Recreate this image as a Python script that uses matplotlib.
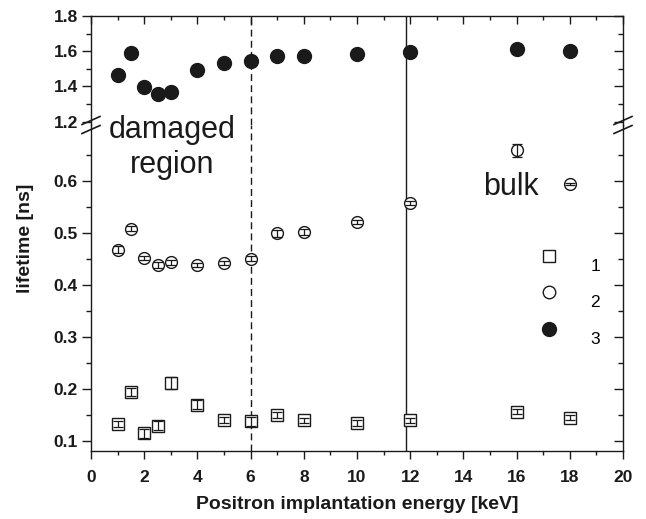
import matplotlib
matplotlib.use('Agg')
import matplotlib.pyplot as plt
from matplotlib.lines import Line2D
from matplotlib.ticker import MultipleLocator, FixedLocator

plt.rcParams['font.family'] = ['Liberation Sans', 'DejaVu Sans']

# Positron implantation energy [keV]
energy = [1, 1.5, 2, 2.5, 3, 4, 5, 6, 7, 8, 10, 12, 16, 18]

# lifetime component 1 (open squares)
tau1 = [0.132, 0.193, 0.114, 0.129, 0.211, 0.169, 0.140, 0.137, 0.150, 0.139, 0.134, 0.139, 0.156, 0.144]
err1 = [0.006, 0.008, 0.008, 0.009, 0.011, 0.009, 0.006, 0.008, 0.006, 0.005, 0.005, 0.005, 0.004, 0.005]

# lifetime component 2 (open circles)
tau2 = [0.468, 0.508, 0.451, 0.438, 0.443, 0.438, 0.442, 0.450, 0.499, 0.501, 0.521, 0.558, 0.659, 0.595]
err2 = [0.006, 0.005, 0.004, 0.005, 0.005, 0.004, 0.004, 0.005, 0.006, 0.006, 0.004, 0.004, 0.012, 0.002]

# lifetime component 3 (filled circles)
tau3 = [1.466, 1.591, 1.394, 1.357, 1.368, 1.494, 1.532, 1.543, 1.571, 1.571, 1.583, 1.594, 1.610, 1.600]

labels = ['1', '2', '3']
lo_major = [0.1, 0.2, 0.3, 0.4, 0.5, 0.6]
lo_minor = [0.15, 0.25, 0.35, 0.45, 0.55, 0.65]
damaged_edge = 6
bulk_edge = 11.83

fig = plt.figure(figsize=(6.46, 5.19), dpi=100)
ax_lo = fig.add_axes([0.1409, 0.1310, 0.8235, 0.6281])
ax_hi = fig.add_axes([0.1409, 0.7592, 0.8235, 0.2100], sharex=ax_lo)
ax_hi.patch.set_visible(False)

ink = '#1a1a1a'

# Series: markers first, error bars drawn over them
ax_lo.plot(energy, tau1, 's', ms=8, mfc='white', mec=ink, mew=1.0, zorder=3)
ax_lo.errorbar(energy, tau1, yerr=err1, fmt='none', ecolor=ink, elinewidth=0.9,
               capsize=3.5, capthick=0.9, zorder=4)
ax_lo.plot(energy, tau2, 'o', ms=8.5, mfc='white', mec=ink, mew=1.0, zorder=3)
ax_lo.errorbar(energy, tau2, yerr=err2, fmt='none', ecolor=ink, elinewidth=0.9,
               capsize=3.5, capthick=0.9, zorder=4)
ax_hi.plot(energy, tau3, 'o', ms=10, color=ink, zorder=3)

# Region boundaries
for ax in (ax_lo, ax_hi):
    ax.axvline(damaged_edge, color=ink, lw=1.0, ls=(0, (5, 3)), zorder=1)
    ax.axvline(bulk_edge, color=ink, lw=1.0, zorder=1)

ax_lo.set_xlim(0, 20)
ax_lo.set_ylim(0.08, 0.7077)
ax_hi.set_ylim(1.181, 1.8)

ax_lo.xaxis.set_major_locator(MultipleLocator(2))
ax_lo.xaxis.set_minor_locator(MultipleLocator(1))
ax_lo.yaxis.set_major_locator(FixedLocator(lo_major))
ax_lo.yaxis.set_minor_locator(FixedLocator(lo_minor))
ax_hi.yaxis.set_major_locator(MultipleLocator(0.2))
ax_hi.yaxis.set_minor_locator(MultipleLocator(0.1))

for ax in (ax_lo, ax_hi):
    for sp in ax.spines.values():
        sp.set_linewidth(1.0)
        sp.set_color(ink)
    ax.tick_params(axis='y', which='major', direction='out', length=6.5, width=1.0, color=ink,
                   labelsize=12.5, labelcolor=ink, pad=3)
    ax.tick_params(axis='y', which='minor', direction='out', length=3.6, width=1.0, color=ink)
    ax.tick_params(axis='y', which='both', right=False, labelright=False)
    for t in ax.yaxis.get_ticklabels():
        t.set_fontweight('bold')

# right side ticks point inward
for ax in (ax_lo, ax_hi):
    r = ax.twinx()
    r.set_ylim(ax.get_ylim())
    r.yaxis.set_major_locator(ax.yaxis.get_major_locator())
    r.yaxis.set_minor_locator(ax.yaxis.get_minor_locator())
    r.tick_params(axis='y', which='major', direction='in', length=6.5, width=1.0, color=ink, labelright=False)
    r.tick_params(axis='y', which='minor', direction='in', length=3.6, width=1.0, color=ink)
    for sp in r.spines.values():
        sp.set_visible(False)

ax_lo.spines['top'].set_visible(False)
ax_hi.spines['bottom'].set_visible(False)
ax_lo.tick_params(axis='x', which='major', direction='out', length=5.5, width=1.0, color=ink,
                  labelsize=12.5, labelcolor=ink, top=False, pad=8)
ax_lo.tick_params(axis='x', which='minor', direction='out', length=3.2, width=1.0, color=ink, top=False)
for t in ax_lo.xaxis.get_ticklabels():
    t.set_fontweight('bold')
ax_hi.tick_params(axis='x', which='major', direction='in', length=5.5, width=1.0, color=ink,
                  top=True, bottom=False, labelbottom=False)
ax_hi.tick_params(axis='x', which='minor', direction='in', length=3.2, width=1.0, color=ink,
                  top=True, bottom=False)

ax_lo.set_xlabel('Positron implantation energy [keV]', fontsize=14, fontweight='bold', color=ink, labelpad=8)
fig.text(0.040, 0.54, 'lifetime [ns]', rotation=90, ha='center', va='center',
         fontsize=14, fontweight='bold', color=ink)

# Break marks on both spines
fig_w, fig_h = 646, 519
for xs in (91, 623):
    for yc in (125 - 4.5, 125 + 4.5):
        fig.add_artist(Line2D([(xs - 9) / fig_w, (xs + 9) / fig_w],
                              [1 - (yc + 4) / fig_h, 1 - (yc - 4) / fig_h],
                              color=ink, lw=1.2))

# Annotations
ax_lo.text(3.05, 0.664, 'damaged\nregion', ha='center', va='center', fontsize=22,
           color=ink, linespacing=1.2, clip_on=False, zorder=6)
ax_lo.text(15.77, 0.588, 'bulk', ha='center', va='center', fontsize=22, color=ink)

# Legend
handles = [
    Line2D([], [], ls='none', marker='s', ms=8.5, mfc='white', mec=ink, mew=1.0),
    Line2D([], [], ls='none', marker='o', ms=9, mfc='white', mec=ink, mew=1.0),
    Line2D([], [], ls='none', marker='o', ms=10, color=ink),
]
leg = ax_lo.legend(handles, labels, loc='upper left', bbox_to_anchor=(0.828, 0.645), frameon=False,
                   fontsize=12.5, handlelength=1.0, handletextpad=1.9, labelspacing=1.25, borderpad=0)
# labels sit a little below their symbols
for t in leg.get_texts():
    t.set_position((0, -9))

fig.savefig('out.png', dpi=100)
